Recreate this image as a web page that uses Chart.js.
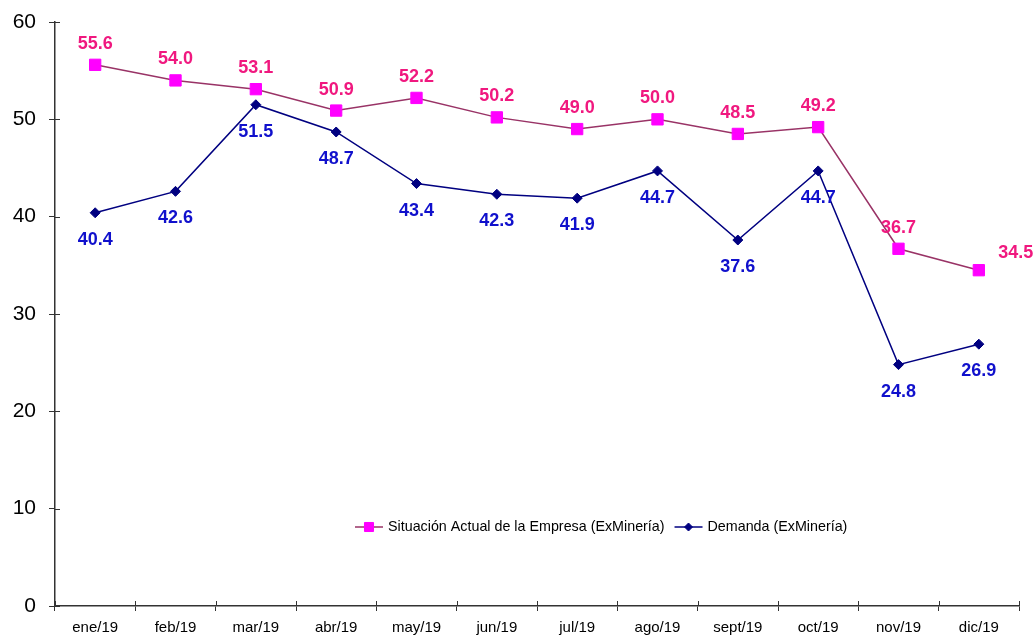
<!DOCTYPE html>
<html>
<head>
<meta charset="utf-8">
<script src="https://cdn.jsdelivr.net/npm/chart.js@4.4.1/dist/chart.umd.min.js"></script>
<style>
    html, body { margin: 0; padding: 0; background: #fff; }
    #wrap { width: 1035px; height: 637px; }
</style>
</head>
<body>
<div id="wrap"><canvas id="chart" width="1035" height="637"></canvas></div>
<script>
// Chart data
const months = ['ene/19', 'feb/19', 'mar/19', 'abr/19', 'may/19', 'jun/19',
                'jul/19', 'ago/19', 'sept/19', 'oct/19', 'nov/19', 'dic/19'];
const situacionActual = [55.6, 54.0, 53.1, 50.9, 52.2, 50.2, 49.0, 50.0, 48.5, 49.2, 36.7, 34.5];
const demanda = [40.4, 42.6, 51.5, 48.7, 43.4, 42.3, 41.9, 44.7, 37.6, 44.7, 24.8, 26.9];
const seriesNames = ['Situación Actual de la Empresa (ExMinería)', 'Demanda (ExMinería)'];

const FONT = '"Liberation Sans", Arial, sans-serif';

/**
 * Draws the value labels next to each point
 */
const valueLabels = {
    id: 'valueLabels',
    afterDatasetsDraw(chart, args, opts) {
        const ctx = chart.ctx;
        ctx.save();
        ctx.font = 'bold 18px ' + FONT;
        ctx.textAlign = 'center';
        ctx.textBaseline = 'middle';
        chart.data.datasets.forEach((ds, i) => {
            const meta = chart.getDatasetMeta(i);
            const cfg = opts.series[i];
            ctx.fillStyle = cfg.color;
            meta.data.forEach((pt, j) => {
                const shift = (cfg.shift && cfg.shift[j]) || [0, 0];
                ctx.fillText(ds.data[j].toFixed(1), pt.x + shift[0], pt.y + cfg.dy + shift[1]);
            });
        });
        ctx.restore();
    }
};

/**
 * Tick marks crossing into the plot area (the library only draws the outer half)
 */
const innerTicks = {
    id: 'innerTicks',
    afterDraw(chart, args, opts) {
        const ctx = chart.ctx;
        const { x, y } = chart.scales;
        const area = chart.chartArea;
        ctx.save();
        ctx.strokeStyle = '#333';
        ctx.lineWidth = 1;
        ctx.beginPath();
        // x: grid lines sit between categories
        for (let i = 0; i <= chart.data.labels.length; i++) {
            const px = Math.round(x.getPixelForValue(i - 0.5)) + 0.5;
            ctx.moveTo(px, area.bottom);
            ctx.lineTo(px, area.bottom - opts.len);
        }
        y.ticks.forEach(t => {
            const py = Math.round(y.getPixelForValue(t.value)) + 0.5;
            ctx.moveTo(area.left, py);
            ctx.lineTo(area.left + opts.len, py);
        });
        ctx.stroke();
        ctx.restore();
    }
};

/**
 * Legend drawn inside the plot area, like the original
 */
const innerLegend = {
    id: 'innerLegend',
    afterDraw(chart, args, opts) {
        const ctx = chart.ctx;
        ctx.save();
        ctx.font = '14.3px ' + FONT;
        ctx.textBaseline = 'middle';
        let x = opts.x;
        const y = opts.y;
        chart.data.datasets.forEach((ds, i) => {
            ctx.strokeStyle = ds.borderColor;
            ctx.lineWidth = 1.5;
            ctx.beginPath();
            ctx.moveTo(x, y);
            ctx.lineTo(x + 28, y);
            ctx.stroke();
            ctx.fillStyle = ds.pointBackgroundColor;
            ctx.strokeStyle = ds.pointBorderColor;
            ctx.lineWidth = 1;
            Chart.helpers.drawPoint(ctx, {
                pointStyle: ds.pointStyle,
                radius: ds.pointRadius * 0.8,
                borderWidth: 1
            }, x + 14, y);
            ctx.fillStyle = '#000';
            ctx.fillText(ds.label, x + 33, y);
            x += 33 + ctx.measureText(ds.label).width + 10;
        });
        ctx.restore();
    }
};

const ctx = document.getElementById('chart').getContext('2d');
const chart = new Chart(ctx, {
    type: 'line',
    data: {
        labels: months,
        datasets: [
            {
                label: seriesNames[0],
                data: situacionActual,
                borderColor: '#993366',
                borderWidth: 1.5,
                pointStyle: 'rect',
                pointRadius: 8,
                pointBackgroundColor: '#ff00ff',
                pointBorderColor: '#ff00ff',
                pointBorderWidth: 1,
                tension: 0
            },
            {
                label: seriesNames[1],
                data: demanda,
                borderColor: '#000080',
                borderWidth: 1.5,
                pointStyle: 'rectRot',
                pointRadius: 5,
                pointBackgroundColor: '#000080',
                pointBorderColor: '#000080',
                pointBorderWidth: 1,
                tension: 0
            }
        ]
    },
    options: {
        responsive: false,
        animation: false,
        layout: { padding: { left: 0, right: 16, top: 22, bottom: 0 } },
        scales: {
            x: {
                offset: true,
                grid: {
                    offset: true,
                    drawOnChartArea: false,
                    tickLength: 5,
                    color: '#333'
                },
                border: { color: '#333', width: 1.5 },
                ticks: {
                    font: { family: FONT, size: 15 },
                    color: '#000',
                    padding: 8,
                    maxRotation: 0
                },
                afterFit(scale) { scale.height = 31; }
            },
            y: {
                min: 0,
                max: 60,
                grid: {
                    drawOnChartArea: false,
                    tickLength: 6,
                    color: '#333'
                },
                border: { color: '#333', width: 1.5 },
                ticks: {
                    stepSize: 10,
                    font: { family: FONT, size: 21, lineHeight: 0.8 },
                    color: '#000',
                    padding: 13
                },
                afterFit(scale) { scale.width = 55; }
            }
        },
        plugins: {
            legend: { display: false },
            tooltip: { enabled: false },
            valueLabels: {
                series: [
                    { color: '#f0187f', dy: -21, shift: { 11: [37, 4] } },
                    { color: '#1010cc', dy: 27 }
                ]
            },
            innerTicks: { len: 5 },
            innerLegend: { x: 355, y: 527 }
        }
    },
    plugins: [valueLabels, innerTicks, innerLegend]
});
</script>
</body>
</html>
